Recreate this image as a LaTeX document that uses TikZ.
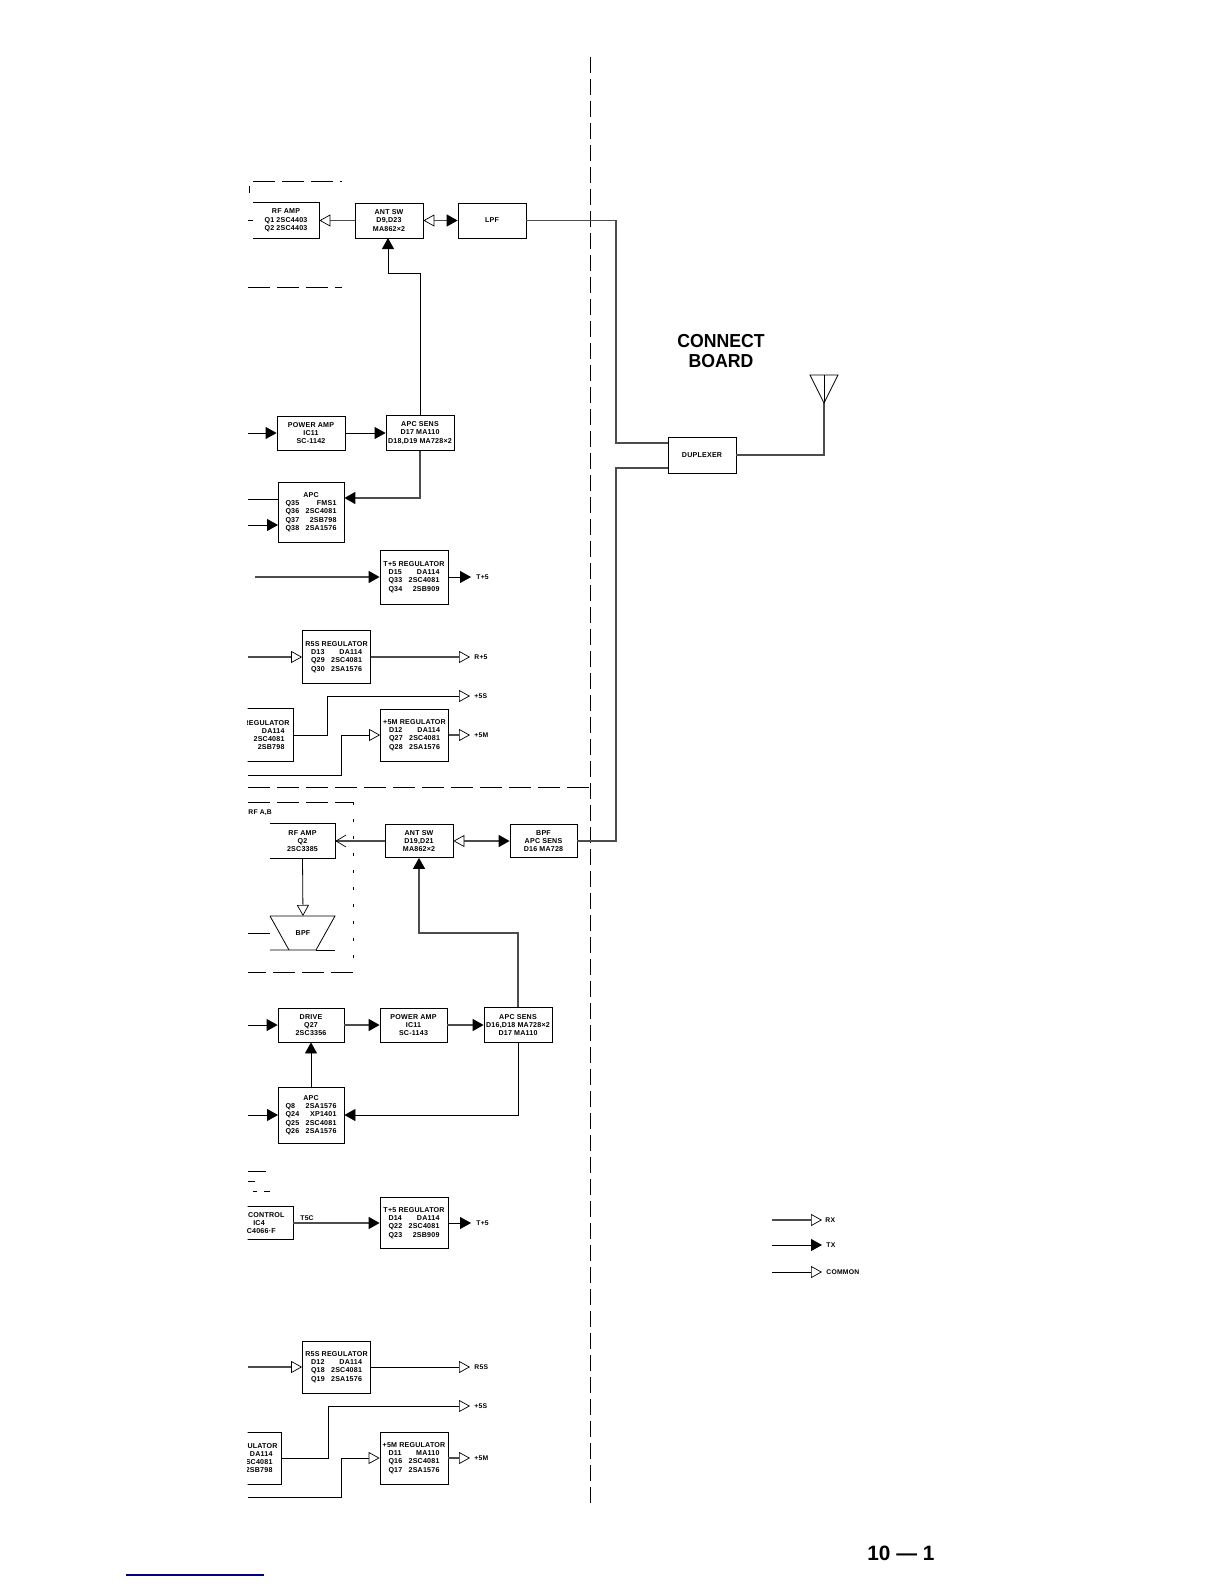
\documentclass[tikz,border=0pt]{standalone}
\usepackage{fontspec}
\setmainfont{Liberation Sans}
\newfontfamily\titlefont[FakeStretch=0.94]{Liberation Sans}
\newfontfamily\blockfont[LetterSpace=3]{Liberation Sans}
\usetikzlibrary{arrows.meta}

\newcommand{\partline}[2]{\makebox[25.5pt]{#1\hfill #2}}

\tikzset{
  block/.style={draw,line width=0.4pt,inner sep=0pt,align=center,minimum width=34pt,minimum height=17.5pt,
    font=\blockfont\fontsize{3.55}{4.15}\selectfont\bfseries},
  openblock/.style={block,draw=none},
  sidelabel/.style={inner sep=0pt,anchor=west,font=\blockfont\fontsize{3.4}{4}\selectfont\bfseries},
  sigline/.style={line width=0.4pt,black},
  rxline/.style={line width=0.7pt,black!70},
  txtip/.style={-{Triangle[length=5.5pt,width=6pt,black]}},
  rxtip/.style={-{Triangle[open,length=5.5pt,width=6pt,fill=white,black,line width=0.35pt]}},
  bartip/.style={-{Straight Barb[length=5pt,width=6pt,black,line width=0.35pt]}},
  bothtip/.style={{Triangle[open,length=5.5pt,width=6pt,fill=white,black,line width=0.35pt]}-{Triangle[length=5.5pt,width=6pt,black]}},
  boardedge/.style={line width=0.4pt,dash pattern=on 8pt off 3pt},
  longedge/.style={line width=0.4pt,dash pattern=on 11pt off 3.5pt}
}

\begin{document}
\begin{tikzpicture}[x=0.5pt,y=-0.5pt]
\useasboundingbox (0,0) rectangle (1224,1584);

\begin{scope}
\clip (247.5,0) rectangle (1224,1584);

% Upper blocks
\node[openblock,minimum width=33pt] (rfampa) at (286,220.5) {RF AMP\\Q1 2SC4403\\Q2 2SC4403};
\node[block] (antswa) at (389,220.5) {ANT SW\\D9,D23\\MA862×2};
\node[block] (lpf) at (492,220.5) {LPF};
\node[block,minimum height=17pt] (pwramp) at (311,433) {POWER AMP\\IC11\\SC-1142};
\node[block] (apcsensa) at (420,433) {APC SENS\\D17 MA110\\D18,D19 MA728×2};
\node[block,minimum width=33pt,minimum height=30pt] (apca) at (311,512) {APC\\\partline{Q35}{FMS1}\\\partline{Q36}{2SC4081}\\\partline{Q37}{2SB798}\\\partline{Q38}{2SA1576}};
\node[block,minimum height=27pt] (tregb) at (414,577) {T+5 REGULATOR\\\partline{D15}{DA114}\\\partline{Q33}{2SC4081}\\\partline{Q34}{2SB909}};
\node[block,minimum height=26.5pt] (rregb) at (336.5,657) {R5S REGULATOR\\\partline{D13}{DA114}\\\partline{Q29}{2SC4081}\\\partline{Q30}{2SA1576}};
\node[block,minimum height=26.5pt] (sregb) at (259,735) {\phantom{T+5 }REGULATOR\\\partline{}{DA114}\\\partline{}{2SC4081}\\\partline{}{2SB798}};
\node[block,minimum height=26pt] (mregb) at (414.5,735) {+5M REGULATOR\\\partline{D12}{DA114}\\\partline{Q27}{2SC4081}\\\partline{Q28}{2SA1576}};

% Lower blocks
\node[openblock,minimum width=32.5pt,minimum height=17pt] (rfampb) at (302.5,841) {RF AMP\\Q2\\2SC3385};
\node[block,minimum height=16.5pt] (antswb) at (419,841) {ANT SW\\D19,D21\\MA862×2};
\node[block,minimum width=33.5pt,minimum height=16.5pt] (bpfa) at (543.5,841) {BPF\\APC SENS\\D16 MA728};
\node[inner sep=0pt,font=\blockfont\fontsize{3.55}{4.15}\selectfont\bfseries] (bpfb) at (303,933) {BPF};
\node[block,minimum width=33pt,minimum height=17pt] (drive) at (311,1025) {DRIVE\\Q27\\2SC3356};
\node[block,minimum width=33.5pt,minimum height=17pt] (pwrampb) at (413.5,1025) {POWER AMP\\IC11\\SC-1143};
\node[block] (apcsensb) at (518,1025) {APC SENS\\D16,D18 MA728×2\\D17 MA110};
\node[block,minimum width=33pt,minimum height=28pt] (apcb) at (311,1115) {APC\\\partline{Q8}{2SA1576}\\\partline{Q24}{XP1401}\\\partline{Q25}{2SC4081}\\\partline{Q26}{2SA1576}};
\node[block,minimum height=16.5pt] (control) at (259,1223) {\partline{}{CONTROL}\\IC4\\TC4066·F};
\node[block,minimum height=25.5pt] (tregc) at (414,1223) {T+5 REGULATOR\\\partline{D14}{DA114}\\\partline{Q22}{2SC4081}\\\partline{Q23}{2SB909}};
\node[block,minimum height=26pt] (rregc) at (336.5,1367) {R5S REGULATOR\\\partline{D12}{DA114}\\\partline{Q18}{2SC4081}\\\partline{Q19}{2SA1576}};
\node[block,minimum height=26pt] (sregc) at (247,1458) {\phantom{T+5 }REGULATOR\\\partline{}{DA114}\\\partline{}{2SC4081}\\\partline{}{2SB798}};
\node[block,minimum height=26pt] (mregc) at (414,1458) {+5M REGULATOR\\\partline{D11}{MA110}\\\partline{Q16}{2SC4081}\\\partline{Q17}{2SA1576}};

% Open sides of the RF AMP blocks
\draw[line width=0.4pt] (rfampa.north west)--(rfampa.north east)--(rfampa.south east)--(rfampa.south west);
\draw[line width=0.4pt] (rfampb.north west)--(rfampb.north east)--(rfampb.south east)--(rfampb.south west);

% BPF outline
\coordinate (bpftop) at (303,916);
\coordinate (bpfin) at (270,933);
\draw[line width=0.4pt] (270,916)--(335,916)--(316,950)--(270,950);
\draw[line width=0.4pt] (270,916)--(289,950);
\draw[line width=0.4pt] (316,950)--(335,950);

% Side labels
\node[sidelabel] (ltb) at (476,577) {T+5};
\node[sidelabel] (lrb) at (474,657) {R+5};
\node[sidelabel] (lsb) at (474,696) {+5S};
\node[sidelabel] (lmb) at (474,735) {+5M};
\node[sidelabel] (ltc) at (476,1223) {T+5};
\node[sidelabel] (lrc) at (474,1367) {R5S};
\node[sidelabel] (lsc) at (474,1406) {+5S};
\node[sidelabel] (lmc) at (474,1458) {+5M};
\node[sidelabel] (ltsc) at (300,1218) {T5C};
\node[sidelabel] (lrfab) at (248,813) {RF A,B};

% Free line ends
\coordinate (ina) at (248,220.5);
\coordinate (inpa) at (248,433);
\coordinate (inca) at (248,499);
\coordinate (incb) at (248,525);
\coordinate (int) at (255,577);
\coordinate (inr) at (248,657);
\coordinate (inm) at (248,775);
\coordinate (indr) at (248,1025);
\coordinate (inap) at (248,1115);
\coordinate (inrc) at (248,1367);
\coordinate (inmc) at (248,1497);
\coordinate (outtb) at (471,577);
\coordinate (outrb) at (470,657);
\coordinate (outsb) at (470,696);
\coordinate (outmb) at (470,735);
\coordinate (outtc) at (471,1223);
\coordinate (outrc) at (470,1367);
\coordinate (outsc) at (470,1406);
\coordinate (outmc) at (470,1458);

% Upper connectors
\draw[sigline] (ina)--(rfampa.west);
\draw[rxline,rxtip] (antswa.west)--(rfampa.east);
\draw[rxline,bothtip] (antswa.east)--(lpf.west);
\draw[sigline,txtip] (inpa)--(pwramp.west);
\draw[sigline,txtip] (pwramp.east)--(apcsensa.west);
\draw[sigline,txtip] (apcsensa.north)--(420,273)--(388,273)--(388,238);
\draw[rxline,txtip] (apcsensa.south)--(420,498)--(apca.east |- 420,498);
\draw[sigline] (inca)--(278,499);
\draw[sigline,txtip] (incb)--(278,525);
\draw[rxline,txtip] (int)--(tregb.west);
\draw[sigline,txtip] (tregb.east)--(outtb);
\draw[rxline,rxtip] (inr)--(rregb.west);
\draw[rxline,rxtip] (rregb.east)--(outrb);
\draw[sigline,rxtip] (sregb.east)--(327,735)--(327,696)--(outsb);
\draw[sigline,rxtip] (inm)--(341,775)--(341,735)--(mregb.west);
\draw[rxline,rxtip] (mregb.east)--(outmb);

% Lower connectors
\draw[rxline,bartip] (antswb.west)--(rfampb.east);
\draw[rxline,bothtip] (antswb.east)--(bpfa.west);
\draw[sigline,rxtip] (rfampb.south)--(bpftop);
\draw[sigline] (248,933)--(bpfin);
\draw[sigline,txtip] (indr)--(drive.west);
\draw[rxline,txtip] (drive.east)--(pwrampb.west);
\draw[rxline,txtip] (pwrampb.east)--(apcsensb.west);
\draw[rxline,txtip] (apcsensb.north)--(518,933)--(419,933)--(antswb.south);
\draw[sigline,txtip] (apcsensb.south)--(518,1115)--(apcb.east);
\draw[sigline,txtip] (apcb.north)--(drive.south);
\draw[sigline,txtip] (inap)--(278,1115);
\draw[rxline,txtip] (control.east)--(tregc.west);
\draw[sigline,txtip] (tregc.east)--(outtc);
\draw[rxline,rxtip] (inrc)--(rregc.west);
\draw[sigline,rxtip] (rregc.east)--(outrc);
\draw[sigline,rxtip] (sregc.east)--(328,1458)--(328,1406)--(outsc);
\draw[sigline,rxtip] (inmc)--(341,1497)--(341,1458)--(mregc.west);
\draw[rxline,rxtip] (mregc.east)--(outmc);

% Dashed frames
\draw[longedge] (253,181)--(342,181);
\draw[longedge] (248,287)--(342,287);
\draw[line width=0.4pt] (249,186)--(249,193);
\draw[longedge] (248,802)--(353,802);
\draw[longedge] (353,972)--(248,972);
\draw[line width=0.4pt,dash pattern=on 1.5pt off 7pt] (353,802)--(353,972);
\draw[longedge] (248,787)--(590,787);
\draw[line width=0.5pt] (248,1171)--(266,1171);
\draw[line width=0.4pt] (248,1181)--(255,1181);
\draw[line width=0.4pt] (253,1191)--(257,1191) (264,1191)--(270,1191);

\end{scope}

% Board edge
\draw[boardedge] (590,57)--(590,1505);

% Connect board
\node[block,minimum height=18pt] (duplexer) at (702,455) {DUPLEXER};
\node[inner sep=0pt,align=center,font=\titlefont\fontsize{9.4}{10.4}\selectfont\bfseries] (board) at (721,351) {CONNECT\\BOARD};
\coordinate (ant) at (824,403);
\coordinate (antb) at (824,375);
\draw[rxline] (lpf.east)--(616,220.5)--(616,443)--(duplexer.west |- 616,443);
\draw[rxline] (bpfa.east)--(616,841)--(616,468)--(duplexer.west |- 616,468);
\draw[rxline] (duplexer.east)--(824,455)--(ant);
\draw[line width=0.4pt] (810,375)--(838,375)--(ant)--cycle;
\draw[line width=0.3pt] (antb)--(ant);

% Legend
\node[sidelabel] (lrx) at (825,1220) {RX};
\node[sidelabel] (ltx) at (826,1245) {TX};
\node[sidelabel] (lcom) at (826,1272) {COMMON};
\coordinate (rxa) at (772,1220);
\coordinate (rxb) at (822,1220);
\coordinate (txa) at (772,1245);
\coordinate (txb) at (822,1245);
\coordinate (coma) at (772,1272);
\coordinate (comb) at (822,1272);
\draw[rxline,rxtip] (rxa)--(rxb);
\draw[sigline,txtip] (txa)--(txb);
\draw[sigline,rxtip] (coma)--(comb);

% Page foot
\node[inner sep=0pt,anchor=base west,font=\fontsize{10.4}{12}\selectfont\bfseries] (pageno) at (867,1560) {10 — 1};
\draw[line width=0.6pt,blue!50!black] (126,1575)--(264,1575);

\end{tikzpicture}
\end{document}
